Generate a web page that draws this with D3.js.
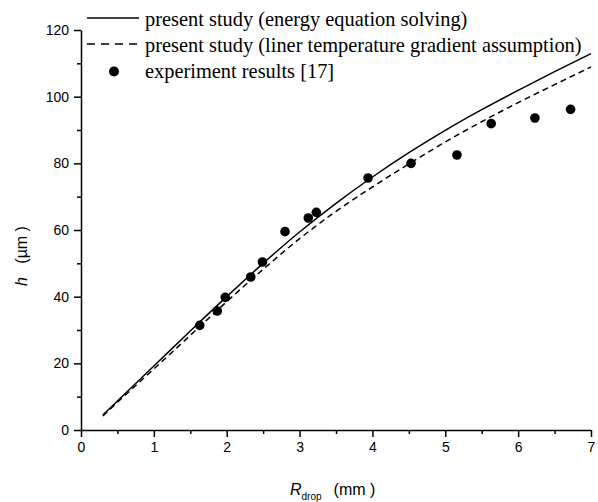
<!DOCTYPE html>
<html>
  <head>
    <script src="https://cdn.jsdelivr.net/npm/d3@7/dist/d3.min.js" charset="utf-8"></script>
    <style>
      body { margin: 0; background: #fff; }
      .tick text { font-family: "Liberation Sans", Arial, sans-serif; font-size: 14px; fill: #000; }
      .legend text { font-family: "Liberation Serif", "Times New Roman", serif; font-size: 20.4px; }
    </style>
  </head>
  <body>
    <svg id="chart" width="598" height="502"></svg>
    <script>
      // radius of drop (mm)
      var rGrid = [0.3, 0.5, 1, 1.5, 2, 2.5, 3, 3.5, 4, 4.5, 5, 5.5, 6, 6.5, 7];
      // h (um), energy equation solving
      var hEnergy = [4.5, 8.7, 19.2, 29.7, 40.0, 50.0, 59.4, 68.0, 75.9, 83.2, 89.9, 96.1, 101.9, 107.5, 112.9];
      // h (um), liner temperature gradient assumption
      var hLinear = [4.2, 8.3, 18.3, 28.4, 38.5, 48.2, 57.4, 65.6, 72.9, 79.8, 86.4, 92.5, 98.2, 103.6, 108.9];
      // experiment results [17]
      var expR = [1.63, 1.87, 1.98, 2.33, 2.49, 2.80, 3.12, 3.23, 3.94, 4.53, 5.16, 5.63, 6.23, 6.72];
      var expH = [31.4, 35.7, 39.8, 45.9, 50.4, 59.5, 63.6, 65.3, 75.6, 80.0, 82.5, 91.9, 93.6, 96.2];

      var xTicks = [0, 1, 2, 3, 4, 5, 6, 7];
      var yTicks = [0, 20, 40, 60, 80, 100, 120];
      var legendLabels = ["present study (energy equation solving)",
        "present study (liner temperature gradient assumption)",
        "experiment results [17]"];

      var svg = d3.select("#chart");

      var scX = d3.scaleLinear().domain([0, 7]).range([81, 591]);
      var scY = d3.scaleLinear().domain([0, 120]).range([430, 30]);

      // minor ticks first, then major axes on top
      svg.append("g").attr("transform", "translate(0,430)")
        .call(d3.axisBottom(scX).tickValues(d3.range(0.5, 7, 1)).tickSize(4).tickFormat(""))
        .call(g => g.select(".domain").remove());
      svg.append("g").attr("transform", "translate(81,0)")
        .call(d3.axisLeft(scY).tickValues(d3.range(10, 120, 20)).tickSize(4).tickFormat(""))
        .call(g => g.select(".domain").remove());

      svg.append("g").attr("transform", "translate(0,430)")
        .call(d3.axisBottom(scX).tickValues(xTicks).tickSize(7).tickSizeOuter(0).tickPadding(5).tickFormat(d3.format("d")));
      svg.append("g").attr("transform", "translate(81,0)")
        .call(d3.axisLeft(scY).tickValues(yTicks).tickSize(7).tickSizeOuter(0).tickPadding(5).tickFormat(d3.format("d")));

      svg.selectAll(".domain, .tick line").attr("stroke", "#000").attr("stroke-width", 1.5);

      // axis titles
      svg.append("text")
        .attr("transform", "translate(27,256) rotate(-90)")
        .attr("text-anchor", "middle")
        .style("font-family", "Liberation Sans, Arial, sans-serif").style("font-size", "16px")
        .html('<tspan font-style="italic">h</tspan>&#160;&#160;&#160;(µm )');

      var xt = svg.append("text")
        .attr("x", 290).attr("y", 495)
        .style("font-family", "Liberation Sans, Arial, sans-serif").style("font-size", "16px");
      xt.append("tspan").attr("font-style", "italic").text("R");
      xt.append("tspan").attr("dy", 5).style("font-size", "10px").text("drop");
      xt.append("tspan").attr("dy", -5).attr("dx", 12).text("(mm )");

      var lineMaker = d3.line().curve(d3.curveMonotoneX)
        .x((d, i) => scX(rGrid[i])).y(d => scY(d));

      svg.append("path").attr("d", lineMaker(hEnergy))
        .attr("fill", "none").attr("stroke", "#000").attr("stroke-width", 1.5);
      svg.append("path").attr("d", lineMaker(hLinear))
        .attr("fill", "none").attr("stroke", "#000").attr("stroke-width", 1.5)
        .attr("stroke-dasharray", "6,4");

      svg.append("g").selectAll("circle").data(expR).enter().append("circle")
        .attr("cx", d => scX(d))
        .attr("cy", (d, i) => scY(expH[i]))
        .attr("r", 4.8)
        .attr("fill", "#000");

      // legend
      var lg = svg.append("g").attr("class", "legend");
      lg.append("line").attr("x1", 87).attr("x2", 139).attr("y1", 18).attr("y2", 18)
        .attr("stroke", "#000").attr("stroke-width", 1.5);
      lg.append("line").attr("x1", 87).attr("x2", 141).attr("y1", 44).attr("y2", 44)
        .attr("stroke", "#000").attr("stroke-width", 1.5).attr("stroke-dasharray", "8,6");
      lg.append("circle").attr("cx", 114).attr("cy", 71.5).attr("r", 5).attr("fill", "#000");
      lg.selectAll("text").data(legendLabels).enter().append("text")
        .attr("x", 145)
        .attr("y", (d, i) => 26 + i * 26)
        .text(d => d);
    </script>
  </body>
</html>
